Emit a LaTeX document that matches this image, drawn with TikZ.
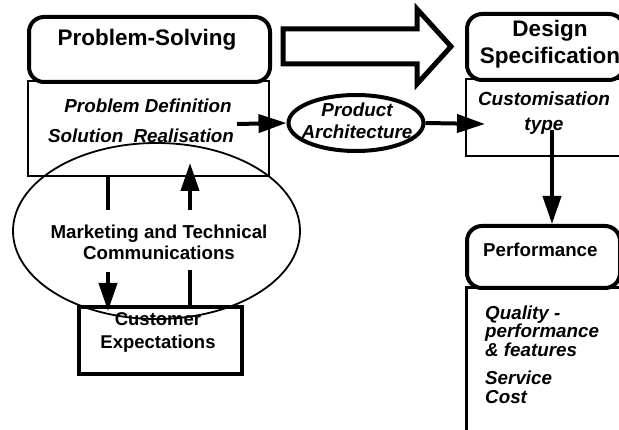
\documentclass[tikz,border=0pt]{standalone}
\usepackage{fontspec}
\setmainfont{Liberation Sans}
\usetikzlibrary{arrows.meta,shapes.geometric}
\begin{document}
\begin{tikzpicture}[x=1pt,y=-1pt,
  hdr/.style={draw, line width=4pt, rounded corners=15pt, inner sep=0pt, fill=white},
  body/.style={draw, line width=2pt, inner sep=0pt},
  lbl/.style={font=\fontsize{18.7}{21}\selectfont\bfseries, align=center, inner sep=0pt},
  ilbl/.style={font=\fontsize{18.8}{22}\selectfont\bfseries\itshape, align=center, inner sep=0pt},
  ttl/.style={font=\fontsize{22.5}{27}\selectfont\bfseries, align=center, inner sep=0pt},
  conn/.style={line width=4pt},
  arr/.style={conn, -{Triangle[length=28pt,width=18pt]}}]
\useasboundingbox (0,0) rectangle (619,430);
\clip (0,0) rectangle (619,430);

% Problem-Solving
\node[body, anchor=north west, minimum width=241pt, minimum height=95pt] (psb) at (27,80) {};
\node[hdr, anchor=north west, minimum width=241pt, minimum height=65pt] (ps) at (27,15) {};
\node[ttl] (pst) at (147,40) {Problem-Solving};
\node[ilbl] (pd) at (148,106) {Problem Definition};
\node[ilbl] (sr) at (141,136) {Solution\ \ Realisation};

% Big hollow arrow
\draw[line width=5pt, line join=miter] (283,29) -- (417,29) -- (417,9) -- (451,46.5) -- (417,84) -- (417,64) -- (283,64) -- cycle;

% Design Specification
\node[body, anchor=north west, minimum width=175pt, minimum height=77pt] (dsb) at (465,78) {};
\node[hdr, anchor=north west, minimum width=157pt, minimum height=66pt] (ds) at (465,12) {};
\node[ttl] (dst) at (550,44) {Design\\Specification};
\node[font=\fontsize{19}{25}\selectfont\bfseries\itshape, align=center, inner sep=0pt] (ct) at (544,113) {Customisation\\type};

% Product Architecture
\node[draw, ellipse, line width=4pt, minimum width=135pt, minimum height=56pt, inner sep=0pt] (pa) at (356,123) {};
\node[ilbl] (pat) at (357,121) {Product\\Architecture};
\coordinate (a1s) at (237,124);
\draw[arr] (a1s) -- (pa.west);
\coordinate (a2e) at (485,124);
\draw[arr] (pa.east) -- (a2e);

% Performance
\node[draw, line width=3pt, inner sep=0pt, anchor=north west, minimum width=175pt, minimum height=170pt] (pfb) at (465,286) {};
\node[hdr, anchor=north west, minimum width=153pt, minimum height=62pt] (pf) at (465,224) {};
\node[lbl, anchor=west] (pft) at (483,250) {Performance};
\node[ilbl, anchor=west] (q1) at (485,315) {Quality -};
\node[ilbl, anchor=west] (q2) at (485,333) {performance};
\node[ilbl, anchor=west] (q3) at (485,350) {\& features};
\node[ilbl, anchor=west] (q4) at (485,378) {Service};
\node[ilbl, anchor=west] (q5) at (485,397) {Cost};
\coordinate (a3s) at (552,130);
\draw[arr] (a3s) -- (a3s |- pf.north);

% Marketing ellipse
\node[draw, ellipse, line width=1.8pt, minimum width=287pt, minimum height=176pt, inner sep=0pt] (mc) at (156.5,231) {};
\node[lbl] (mct) at (159,242) {Marketing and Technical\\Communications};

% Customer Expectations
\node[draw, line width=4pt, inner sep=0pt, anchor=north west, minimum width=163pt, minimum height=67pt] (ce) at (77,305) {};
\node[lbl, font=\fontsize{18.5}{23}\selectfont\bfseries] (cet) at (158,332) {Customer\\Expectations};

% vertical links
\coordinate (l1) at (108,210);
\draw[conn] (l1 |- psb.south) -- (l1);
\coordinate (l2) at (108,272);
\coordinate (l2e) at (108,311);
\draw[arr] (l2) -- (l2e);
\coordinate (r1) at (190,270);
\draw[conn] (r1 |- ce.north) -- (r1);
\coordinate (r2) at (190,210);
\coordinate (r2e) at (190,163);
\draw[arr] (r2) -- (r2e);
\end{tikzpicture}
\end{document}
